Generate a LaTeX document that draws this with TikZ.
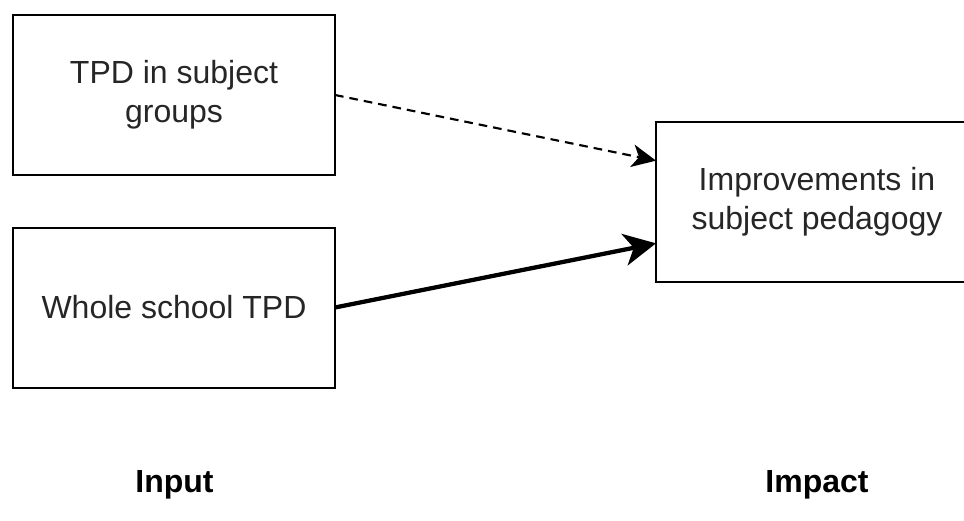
\documentclass[tikz,border=0pt]{standalone}
\usepackage{fontspec}
\setmainfont{Liberation Sans}
\usetikzlibrary{arrows.meta}
\begin{document}
\begin{tikzpicture}[x=0.75pt,y=-0.75pt,
  box/.style={draw=black,line width=1.5pt,minimum width=241.5pt,minimum height=120pt,
    align=center,inner sep=0pt,outer sep=0pt,font=\fontsize{24}{29}\selectfont,text=black!85},
  lbl/.style={anchor=base,font=\fontsize{24}{29}\selectfont\bfseries},
  dasharrow/.style={line width=1.6pt,dash pattern=on 6.5pt off 4.5pt,
    -{Stealth[length=18pt,width=17pt,inset=5pt]}},
  thickarrow/.style={line width=3.2pt,-{Stealth[length=24pt,width=24pt,inset=7pt]}}]
\useasboundingbox (0,0) rectangle (964,521);
\fill[white] (0,0) rectangle (964,521);
\node[box] (b1) at (174,95) {TPD in subject\\groups};
\node[box] (b2) at (174,307.5) {Whole school TPD};
\node[box] (b3) at (817,202) {Improvements in\\subject pedagogy};
\coordinate (t1) at ([yshift=31pt]b3.west);
\coordinate (t2) at ([yshift=-31pt]b3.west);
\draw[dasharrow] (b1.east) -- (t1);
\draw[thickarrow] (b2.east) -- (t2);
\node[lbl] (in) at (174.5,492) {Input};
\node[lbl] (im) at (817,492) {Impact};
\end{tikzpicture}
\end{document}
